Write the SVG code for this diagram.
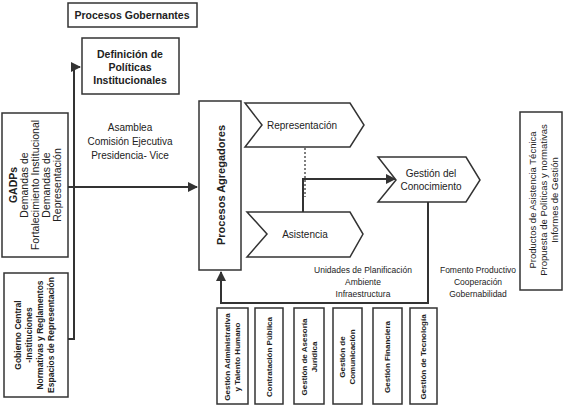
<svg xmlns="http://www.w3.org/2000/svg" width="567" height="407" viewBox="0 0 567 407">
<defs>
<marker id="ah" viewBox="0 0 10 10" refX="9" refY="5" markerWidth="5" markerHeight="5" orient="auto-start-reverse" markerUnits="strokeWidth">
<path d="M0,0 L10,5 L0,10 Z" fill="#333"/>
</marker>
<style>
.bx{fill:#fff;stroke:#333;stroke-width:1.5}
.ln{fill:none;stroke:#333;stroke-width:2}
.t{font-family:"Liberation Sans",Arial,sans-serif;fill:#222;text-anchor:middle;dominant-baseline:central}
.b{font-weight:bold}
</style>
</defs>
<rect width="567" height="407" fill="#fff"/>
<g id="connectors">
<path class="ln" d="M68,339 H74 V67 H80" marker-end="url(#ah)"/>
<path class="ln" d="M68,187 H197" marker-end="url(#ah)"/>
<path d="M305,148 V197" fill="none" stroke="#555" stroke-width="1.5" stroke-dasharray="2,2"/>
<path class="ln" d="M303,212 V179 H395" marker-end="url(#ah)"/>
<path class="ln" d="M428,202 V303 H221 V272" marker-end="url(#ah)"/>
</g>
<g id="procesos-gobernantes">
<rect class="bx" x="68" y="3" width="129" height="24"/>
<text class="t b" x="132" y="15" font-size="10.5">Procesos Gobernantes</text>
</g>
<g id="definicion">
<rect class="bx" x="82" y="38" width="97" height="56"/>
<text class="t b" x="130" y="54" font-size="10.5">Definición de</text>
<text class="t b" x="130" y="67" font-size="10.5">Políticas</text>
<text class="t b" x="130" y="80" font-size="10.5">Institucionales</text>
</g>
<g id="gadps">
<rect class="bx" x="2" y="113" width="66" height="144"/>
<g transform="translate(35,185) rotate(-90)">
<text class="t b" x="0" y="-22" font-size="10.5">GADPs</text>
<text class="t" x="0" y="-11" font-size="10.5">Demandas de</text>
<text class="t" x="0" y="0" font-size="10.5">Fortalecimiento Institucional</text>
<text class="t" x="0" y="11" font-size="10.5">Demandas de</text>
<text class="t" x="0" y="22" font-size="10.5">Representación</text>
</g>
</g>
<g id="gobierno">
<rect class="bx" x="4" y="273" width="64" height="124"/>
<g transform="translate(35,335) rotate(-90)">
<text class="t b" x="0" y="-17" font-size="8.5">Gobierno Central</text>
<text class="t b" x="0" y="-6" font-size="8.5">-Instituciones</text>
<text class="t b" x="0" y="5" font-size="8.5">Normativas y Reglamentos</text>
<text class="t b" x="0" y="16" font-size="8.5">Espacios de Representación</text>
</g>
</g>
<g id="asamblea">
<text class="t" x="130" y="127" font-size="10">Asamblea</text>
<text class="t" x="130" y="141" font-size="10">Comisión Ejecutiva</text>
<text class="t" x="130" y="155" font-size="10">Presidencia- Vice</text>
</g>
<g id="procesos-agregadores">
<rect class="bx" x="199" y="101" width="42" height="169"/>
<text class="t b" transform="translate(221,185) rotate(-90)" font-size="11">Procesos Agregadores</text>
</g>
<g id="representacion">
<polygon class="bx" points="245,103 350,103 364,125 350,147 245,147 262,125"/>
<text class="t" x="302" y="125" font-size="10">Representación</text>
</g>
<g id="asistencia">
<polygon class="bx" points="247,212 350,212 363,234 350,257 247,257 267,234"/>
<text class="t" x="305" y="234" font-size="10">Asistencia</text>
</g>
<g id="gestion-conocimiento">
<polygon class="bx" points="378,157 466,157 480,180 466,202 378,202 396,180"/>
<text class="t" x="431" y="173" font-size="10">Gestión del</text>
<text class="t" x="431" y="186" font-size="10">Conocimiento</text>
</g>
<g id="unidades">
<text class="t" x="363" y="270" font-size="8.5">Unidades de Planificación</text>
<text class="t" x="363" y="282" font-size="8.5">Ambiente</text>
<text class="t" x="363" y="294" font-size="8.5">Infraestructura</text>
</g>
<g id="fomento">
<text class="t" x="478" y="270" font-size="8.5">Fomento Productivo</text>
<text class="t" x="478" y="282" font-size="8.5">Cooperación</text>
<text class="t" x="478" y="294" font-size="8.5">Gobernabilidad</text>
</g>
<g id="productos">
<rect class="bx" x="520" y="112" width="42" height="178"/>
<g transform="translate(543,200) rotate(-90)">
<text class="t" x="0" y="-11" font-size="9.5">Productos de Asistencia Técnica</text>
<text class="t" x="0" y="0" font-size="9.5">Propuesta de Políticas y normativas</text>
<text class="t" x="0" y="11" font-size="9.5">Informes de Gestión</text>
</g>
</g>
<g id="gestion-administrativa">
<rect class="bx" x="217" y="308" width="31" height="96"/>
<g transform="translate(232.5,357) rotate(-90)">
<text class="t b" x="0" y="-5" font-size="8">Gestión Administrativa</text>
<text class="t b" x="0" y="5" font-size="8">y Talento Humano</text>
</g>
</g>
<g id="contratacion">
<rect class="bx" x="255" y="308" width="28" height="96"/>
<text class="t b" transform="translate(269,357) rotate(-90)" font-size="8">Contratación Pública</text>
</g>
<g id="asesoria">
<rect class="bx" x="294" y="308" width="30" height="96"/>
<g transform="translate(309,357) rotate(-90)">
<text class="t b" x="0" y="-5" font-size="8">Gestión de Asesoría</text>
<text class="t b" x="0" y="5" font-size="8">Jurídica</text>
</g>
</g>
<g id="comunicacion">
<rect class="bx" x="333" y="308" width="29" height="96"/>
<g transform="translate(347.5,357) rotate(-90)">
<text class="t b" x="0" y="-5" font-size="8">Gestión de</text>
<text class="t b" x="0" y="5" font-size="8">Comunicación</text>
</g>
</g>
<g id="financiera">
<rect class="bx" x="373" y="308" width="29" height="96"/>
<text class="t b" transform="translate(387.5,357) rotate(-90)" font-size="8">Gestión Financiera</text>
</g>
<g id="tecnologia">
<rect class="bx" x="410" y="308" width="27" height="96"/>
<text class="t b" transform="translate(423.5,357) rotate(-90)" font-size="8">Gestión de Tecnología</text>
</g>
</svg>
